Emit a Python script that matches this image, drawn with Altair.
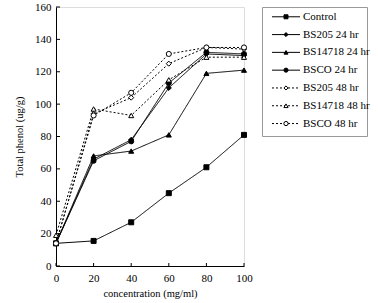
import altair as alt
import pandas as pd

conc = [0, 20, 40, 60, 80, 100]
series = ["Control", "BS205 24 hr", "BS14718 24 hr", "BSCO 24 hr",
          "BS205 48 hr", "BS14718 48 hr", "BSCO 48 hr"]
control = [14, 15.5, 27, 45, 61, 81]
bs205_24 = [14, 66, 78, 110, 131, 130]
bs14718_24 = [14, 68, 71, 81, 119, 121]
bsco_24 = [14, 65, 77, 113, 132, 131]
bs205_48 = [14, 94, 104, 125, 135, 134]
bs14718_48 = [19, 97, 93, 115, 129, 129]
bsco_48 = [14, 93, 107, 131, 135, 135]
values = [control, bs205_24, bs14718_24, bsco_24, bs205_48, bs14718_48, bsco_48]

y_ticks = [0, 20, 40, 60, 80, 100, 120, 140, 160]
x_ticks = [0, 20, 40, 60, 80, 100]

FONT = "Liberation Serif"
shapes = ["square", "diamond", "triangle-up", "circle", "diamond", "triangle-up", "circle"]
fills = ["black", "black", "black", "black", "white", "white", "white"]
sizes = [25, 26, 30, 45, 26, 30, 60]
leg_sizes = [16, 18, 20, 36, 18, 20, 36]
dashes = [[1, 0], [1, 0], [1, 0], [1, 0], [2, 2], [2, 2], [2, 2]]
widths = [1, 1, 1, 1, 1.3, 1.3, 1.3]

rows = []
for s, vals in zip(series, values):
    for c, v in zip(conc, vals):
        rows.append({"series": s, "conc": c, "phenol": v})
df = pd.DataFrame(rows)

W, H = 188, 259

sc_shape = alt.Scale(domain=series, range=shapes)
sc_fill = alt.Scale(domain=series, range=fills)
sc_size = alt.Scale(domain=series, range=sizes)
sc_dash = alt.Scale(domain=series, range=dashes)
sc_width = alt.Scale(domain=series, range=widths)
sc_x = alt.Scale(domain=[0, 100], nice=False)
sc_y = alt.Scale(domain=[0, 160], nice=False)

axis_common = dict(ticks=False, grid=False, domainColor="black", labelFont=FONT,
                   labelFontSize=11, labelColor="black", titleFont=FONT, titleFontSize=10.5,
                   titleFontWeight="normal", titleColor="black", labelOverlap=False,
                   labelFlush=False)
ax_x = alt.Axis(values=x_ticks, title="concentration (mg/ml)", labelPadding=6,
                titlePadding=5, **axis_common)
ax_y = alt.Axis(values=y_ticks, title="Total phenol (ug/g)", labelPadding=5,
                titlePadding=10, **axis_common)


def X():
    return alt.X("conc:Q", scale=sc_x, axis=ax_x)


def Y():
    return alt.Y("phenol:Q", scale=sc_y, axis=ax_y)


base = alt.Chart(df)
lines = base.mark_line(color="black").encode(
    x=X(), y=Y(), detail="series:N",
    strokeDash=alt.StrokeDash("series:N", scale=sc_dash, legend=None),
    strokeWidth=alt.StrokeWidth("series:N", scale=sc_width, legend=None),
)
points = base.mark_point(stroke="black", strokeWidth=1, opacity=1).encode(
    x=X(), y=Y(),
    shape=alt.Shape("series:N", scale=sc_shape, legend=None),
    fill=alt.Fill("series:N", scale=sc_fill, legend=None),
    size=alt.Size("series:N", scale=sc_size, legend=None),
)

ytick_df = pd.DataFrame({"phenol": y_ticks})
xtick_df = pd.DataFrame({"conc": x_ticks})
yticks = alt.Chart(ytick_df).mark_rule(color="black").encode(
    y=Y(), x=alt.value(0), x2=alt.value(4))
xticks = alt.Chart(xtick_df).mark_rule(color="black").encode(
    x=X(), y=alt.value(H), y2=alt.value(H - 3))

plot = alt.layer(lines, yticks, xticks, points).properties(width=W, height=H)

# legend panel
leg_df = pd.DataFrame({"series": series, "row": [i + 0.5 for i in range(len(series))]})
lx = alt.Scale(domain=[0, 105], nice=False)
ly = alt.Scale(domain=[-0.05, 7.2], nice=False, reverse=True)
sc_lsize = alt.Scale(domain=series, range=leg_sizes)
lbase = alt.Chart(leg_df)
leg_lines = lbase.mark_rule(color="black").encode(
    x=alt.X("a:Q", scale=lx, axis=None), x2="b:Q",
    y=alt.Y("row:Q", scale=ly, axis=None),
    strokeDash=alt.StrokeDash("series:N", scale=sc_dash, legend=None),
    strokeWidth=alt.StrokeWidth("series:N", scale=sc_width, legend=None),
).transform_calculate(a="10", b="38")
leg_pts = lbase.mark_point(stroke="black", strokeWidth=1, opacity=1).encode(
    x=alt.X("m:Q", scale=lx, axis=None),
    y=alt.Y("row:Q", scale=ly, axis=None),
    shape=alt.Shape("series:N", scale=sc_shape, legend=None),
    fill=alt.Fill("series:N", scale=sc_fill, legend=None),
    size=alt.Size("series:N", scale=sc_lsize, legend=None),
).transform_calculate(m="24")
leg_txt = lbase.mark_text(align="left", baseline="middle", font=FONT, fontSize=11,
                          color="black").encode(
    x=alt.X("t:Q", scale=lx, axis=None),
    y=alt.Y("row:Q", scale=ly, axis=None),
    text="series:N",
).transform_calculate(t="41")
legend = alt.layer(leg_lines, leg_pts, leg_txt).properties(
    width=105, height=129, view=alt.ViewBackground(stroke="#999999", strokeWidth=1))

chart = alt.hconcat(plot, legend, spacing=8).resolve_scale(
    x="independent", y="independent", size="independent"
).properties(padding={"left": 14, "top": 0, "right": 5, "bottom": 5}
).configure_view(stroke=None).configure(background="white")

chart.save("out.html", embed_options={"renderer": "svg", "actions": False})
